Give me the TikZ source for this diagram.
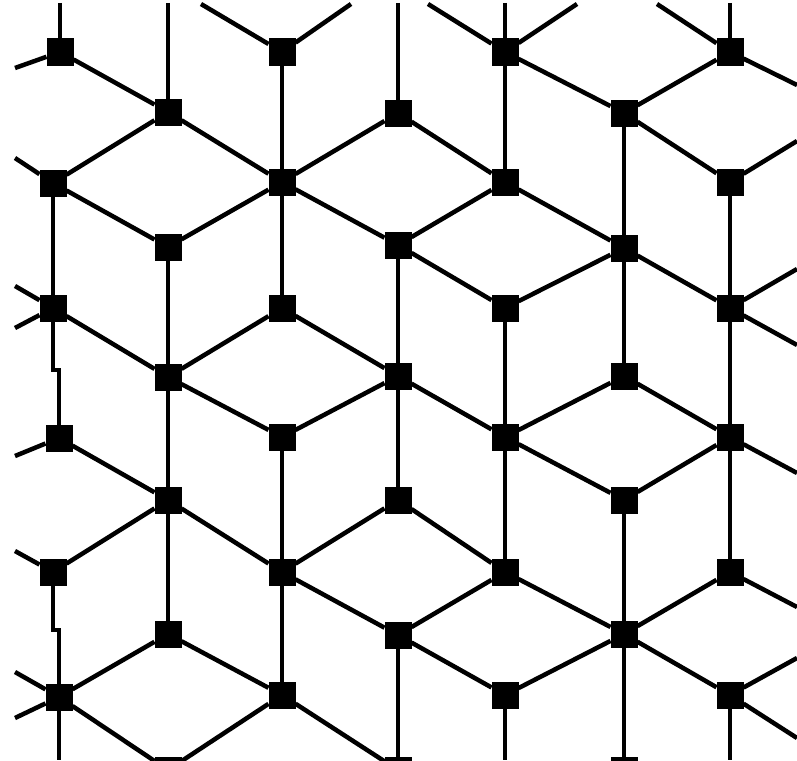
\documentclass[tikz,border=0pt]{standalone}
\begin{document}
\begin{tikzpicture}[x=1pt,y=-1pt,
  sq/.style={fill=black,draw=none,minimum size=27pt,inner sep=0pt,outer sep=0pt},
  edge/.style={line width=4.5pt,line cap=butt,line join=miter}]
\useasboundingbox (0,0) rectangle (797,760);
\clip (0,0) rectangle (797,760);
\fill[white] (0,0) rectangle (797,760);
% column 0
\node[sq] (A1) at (60,52) {};
\node[sq] (A2) at (53,183) {};
\node[sq] (A3) at (53,308) {};
\node[sq] (A4) at (59,438) {};
\node[sq] (A5) at (53,572) {};
\node[sq] (A6) at (59,697) {};
% column 1
\node[sq] (B1) at (168,112) {};
\node[sq] (B2) at (168,247) {};
\node[sq] (B3) at (168,377) {};
\node[sq] (B4) at (168,500) {};
\node[sq] (B5) at (168,634) {};
\node[sq] (B6) at (168,770) {};
% column 2
\node[sq] (C1) at (282,52) {};
\node[sq] (C2) at (282,182) {};
\node[sq] (C3) at (282,308) {};
\node[sq] (C4) at (282,437) {};
\node[sq] (C5) at (282,572) {};
\node[sq] (C6) at (282,695) {};
% column 3
\node[sq] (D1) at (398,113) {};
\node[sq] (D2) at (398,245) {};
\node[sq] (D3) at (398,376) {};
\node[sq] (D4) at (398,500) {};
\node[sq] (D5) at (398,635) {};
\node[sq] (D6) at (398,770) {};
% column 4
\node[sq] (E1) at (505,52) {};
\node[sq] (E2) at (505,182) {};
\node[sq] (E3) at (505,308) {};
\node[sq] (E4) at (505,437) {};
\node[sq] (E5) at (505,572) {};
\node[sq] (E6) at (505,695) {};
% column 5
\node[sq] (F1) at (624,113) {};
\node[sq] (F2) at (624,248) {};
\node[sq] (F3) at (624,376) {};
\node[sq] (F4) at (624,500) {};
\node[sq] (F5) at (624,634) {};
\node[sq] (F6) at (624,770) {};
% column 6
\node[sq] (G1) at (730,52) {};
\node[sq] (G2) at (730,182) {};
\node[sq] (G3) at (730,308) {};
\node[sq] (G4) at (730,437) {};
\node[sq] (G5) at (730,572) {};
\node[sq] (G6) at (730,695) {};
% border end points
\coordinate (tA) at (60,3);
\coordinate (tB) at (168,3);
\coordinate (tD) at (398,3);
\coordinate (tE) at (505,3);
\coordinate (tG) at (730,3);
\coordinate (tC1) at (201,4);
\coordinate (tC2) at (351,4);
\coordinate (tE1) at (428,4);
\coordinate (tE2) at (577,4);
\coordinate (tG1) at (657,4);
\coordinate (bA) at (59,760);
\coordinate (bE) at (505,760);
\coordinate (bG) at (730,760);
\coordinate (jA3) at (53,370);
\coordinate (jA5) at (53,630);
\coordinate (lA1) at (15,68);
\coordinate (lA2) at (15,158);
\coordinate (lA3a) at (15,286);
\coordinate (lA3b) at (15,328);
\coordinate (lA4) at (15,456);
\coordinate (lA5) at (15,551);
\coordinate (lA6a) at (15,672);
\coordinate (lA6b) at (15,718);
\coordinate (rG1) at (797,85);
\coordinate (rG2) at (797,141);
\coordinate (rG3a) at (797,269);
\coordinate (rG3b) at (797,345);
\coordinate (rG4) at (797,473);
\coordinate (rG5) at (797,607);
\coordinate (rG6a) at (797,658);
\coordinate (rG6b) at (797,738);
% vertical connectors
\draw[edge] (tA) -- (A1);
\draw[edge] (A2) -- (A3);
\draw[edge] (A3) -- (jA3) -| (A4);
\draw[edge] (A5) -- (jA5) -| (A6);
\draw[edge] (A6) -- (bA);
\draw[edge] (tB) -- (B1);
\draw[edge] (B2) -- (B3);
\draw[edge] (B3) -- (B4);
\draw[edge] (B4) -- (B5);
\draw[edge] (C1) -- (C2);
\draw[edge] (C2) -- (C3);
\draw[edge] (C4) -- (C5);
\draw[edge] (C5) -- (C6);
\draw[edge] (tD) -- (D1);
\draw[edge] (D2) -- (D3);
\draw[edge] (D3) -- (D4);
\draw[edge] (D5) -- (D6);
\draw[edge] (tE) -- (E1);
\draw[edge] (E1) -- (E2);
\draw[edge] (E3) -- (E4);
\draw[edge] (E4) -- (E5);
\draw[edge] (E6) -- (bE);
\draw[edge] (F1) -- (F2);
\draw[edge] (F2) -- (F3);
\draw[edge] (F4) -- (F5);
\draw[edge] (F5) -- (F6);
\draw[edge] (tG) -- (G1);
\draw[edge] (G2) -- (G3);
\draw[edge] (G3) -- (G4);
\draw[edge] (G4) -- (G5);
\draw[edge] (G6) -- (bG);
% diagonals col0-col1
\draw[edge] (A1) -- (B1);
\draw[edge] (A2) -- (B1);
\draw[edge] (A2) -- (B2);
\draw[edge] (A3) -- (B3);
\draw[edge] (A4) -- (B4);
\draw[edge] (A5) -- (B4);
\draw[edge] (A6) -- (B5);
\draw[edge] (A6) -- (B6);
% col1-col2
\draw[edge] (B1) -- (C2);
\draw[edge] (B2) -- (C2);
\draw[edge] (B3) -- (C3);
\draw[edge] (B3) -- (C4);
\draw[edge] (B4) -- (C5);
\draw[edge] (B5) -- (C6);
\draw[edge] (B6) -- (C6);
% col2-col3
\draw[edge] (C2) -- (D1);
\draw[edge] (C2) -- (D2);
\draw[edge] (C3) -- (D3);
\draw[edge] (C4) -- (D3);
\draw[edge] (C5) -- (D4);
\draw[edge] (C5) -- (D5);
\draw[edge] (C6) -- (D6);
% col3-col4
\draw[edge] (D1) -- (E2);
\draw[edge] (D2) -- (E2);
\draw[edge] (D2) -- (E3);
\draw[edge] (D3) -- (E4);
\draw[edge] (D4) -- (E5);
\draw[edge] (D5) -- (E5);
\draw[edge] (D5) -- (E6);
% col4-col5
\draw[edge] (E1) -- (F1);
\draw[edge] (E2) -- (F2);
\draw[edge] (E3) -- (F2);
\draw[edge] (E4) -- (F3);
\draw[edge] (E4) -- (F4);
\draw[edge] (E5) -- (F5);
\draw[edge] (E6) -- (F5);
% col5-col6
\draw[edge] (F1) -- (G1);
\draw[edge] (F1) -- (G2);
\draw[edge] (F2) -- (G3);
\draw[edge] (F3) -- (G4);
\draw[edge] (F4) -- (G4);
\draw[edge] (F5) -- (G5);
\draw[edge] (F5) -- (G6);
% top border diagonals
\draw[edge] (tC1) -- (C1);
\draw[edge] (tC2) -- (C1);
\draw[edge] (tE1) -- (E1);
\draw[edge] (tE2) -- (E1);
\draw[edge] (tG1) -- (G1);
% left border diagonals
\draw[edge] (A1) -- (lA1);
\draw[edge] (A2) -- (lA2);
\draw[edge] (A3) -- (lA3a);
\draw[edge] (A3) -- (lA3b);
\draw[edge] (A4) -- (lA4);
\draw[edge] (A5) -- (lA5);
\draw[edge] (A6) -- (lA6a);
\draw[edge] (A6) -- (lA6b);
% right border diagonals
\draw[edge] (G1) -- (rG1);
\draw[edge] (G2) -- (rG2);
\draw[edge] (G3) -- (rG3a);
\draw[edge] (G3) -- (rG3b);
\draw[edge] (G4) -- (rG4);
\draw[edge] (G5) -- (rG5);
\draw[edge] (G6) -- (rG6a);
\draw[edge] (G6) -- (rG6b);
\end{tikzpicture}
\end{document}
